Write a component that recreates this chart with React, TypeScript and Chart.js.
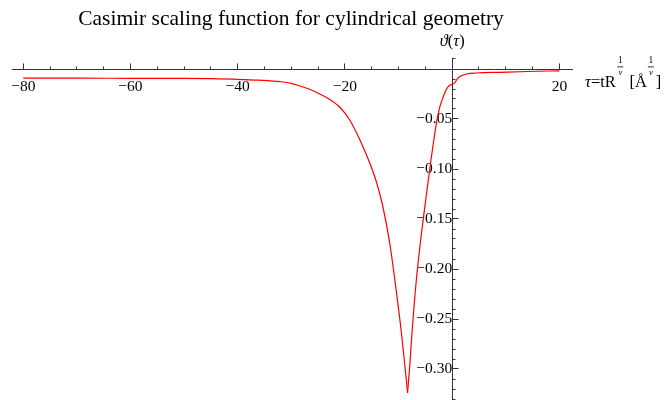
import React, { useEffect, useRef } from 'react';
import { Chart, registerables } from 'chart.js';

Chart.register(...registerables);

// ---- data ----
const leftTau = [-80, -70, -60, -50, -45, -40, -36, -32, -30, -28.4, -26.5, -24.7, -22.8, -20.9, -19.1, -17.2, -15.35, -14.42, -13.8, -12.87, -11.62, -10.69, -9.44, -8.32];
const leftVal = [-0.0092, -0.0092, -0.0093, -0.0094, -0.0097, -0.0103, -0.0112, -0.0127, -0.0143, -0.017, -0.0205, -0.025, -0.0305, -0.0385, -0.051, -0.071, -0.0943, -0.108, -0.119, -0.139, -0.175, -0.211, -0.265, -0.3237];
const rightTau = [-8.32, -7.9, -7.52, -6.77, -5.84, -4.91, -3.98, -3.23, -2.8, -2.29, -1.67, -1.05, -0.43, 0.07, 0.5, 0.82, 1.25, 1.75, 2.68, 4.55, 8.9, 14, 20];
const rightVal = [-0.3237, -0.296, -0.266, -0.216, -0.1695, -0.13, -0.092, -0.064, -0.05, -0.0377, -0.0277, -0.02, -0.0163, -0.0153, -0.0137, -0.011, -0.0083, -0.0067, -0.005, -0.004, -0.0033, -0.0025, -0.0018];

const xLabelTicks = [-80, -60, -40, -20, 20];
const yLabelTicks = [-0.05, -0.1, -0.15, -0.2, -0.25, -0.3];
const xMinorStep = 5;
const yMinorStep = 0.01;

const titleText = 'Casimir scaling function for cylindrical geometry';

const X_MIN = -82.1;
const X_MAX = 22.35;
const Y_MIN = -0.331;
const Y_MAX = 0.011;

const SERIF = '"Liberation Serif", "Times New Roman", serif';
const AXIS_COLOR = '#333333';

function minorTicks(lo: number, hi: number, step: number): number[] {
  const out: number[] = [];
  const start = Math.ceil(lo / step - 1e-9);
  const end = Math.floor(hi / step + 1e-9);
  for (let i = start; i <= end; i++) out.push(Math.round(i * step * 1e6) / 1e6);
  return out;
}

const fmt = (v: number, dec: number) => {
  const s = Math.abs(v).toFixed(dec);
  return v < 0 ? '\u2212' + s : s;
};

const noPad = (s: any) => {
  s.paddingTop = 0;
  s.paddingBottom = 0;
  s.paddingLeft = 0;
  s.paddingRight = 0;
};

type Run = { t: string; font: string; dy?: number };

function drawRuns(ctx: CanvasRenderingContext2D, runs: Run[], x: number, y: number, align: 'left' | 'center') {
  let total = 0;
  for (const r of runs) { ctx.font = r.font; total += ctx.measureText(r.t).width; }
  let cx = align === 'center' ? x - total / 2 : x;
  ctx.textAlign = 'left';
  ctx.textBaseline = 'alphabetic';
  for (const r of runs) {
    ctx.font = r.font;
    ctx.fillText(r.t, cx, y + (r.dy || 0));
    cx += ctx.measureText(r.t).width;
  }
  return cx;
}

function drawFrac(ctx: CanvasRenderingContext2D, x: number, topBase: number) {
  ctx.font = `9.5px ${SERIF}`;
  ctx.textAlign = 'center';
  ctx.textBaseline = 'alphabetic';
  ctx.fillText('1', x + 3, topBase);
  ctx.fillRect(x, topBase + 3.5, 6, 0.8);
  ctx.font = `italic 8.5px ${SERIF}`;
  ctx.fillText('\u03bd', x + 3, topBase + 11.5);
  return x + 7;
}

const textPlugin = {
  id: 'textPlugin',
  afterDraw(chart: any) {
    const ctx: CanvasRenderingContext2D = chart.ctx;
    ctx.save();
    ctx.fillStyle = '#000';
    // title
    ctx.font = `21.5px ${SERIF}`;
    ctx.textAlign = 'center';
    ctx.textBaseline = 'alphabetic';
    ctx.fillText(titleText, 291, 25);
    // y-axis label
    const x0 = chart.scales.x.getPixelForValue(0);
    drawRuns(ctx, [
      { t: '\u03d1', font: `italic 16.5px ${SERIF}` },
      { t: '(', font: `16.5px ${SERIF}` },
      { t: '\u03c4', font: `italic 16.5px ${SERIF}` },
      { t: ')', font: `16.5px ${SERIF}` },
    ], x0, 45.5, 'center');
    // x-axis label
    let cx = drawRuns(ctx, [
      { t: '\u03c4', font: `italic 16.5px ${SERIF}` },
      { t: '=tR', font: `16.5px ${SERIF}` },
    ], 585, 86.5, 'left');
    cx = drawFrac(ctx, cx + 1.5, 63);
    cx = drawRuns(ctx, [{ t: ' [\u00c5', font: `16.5px ${SERIF}` }], cx + 1, 86.5, 'left');
    cx = drawFrac(ctx, cx + 1, 63);
    drawRuns(ctx, [{ t: ']', font: `16.5px ${SERIF}` }], cx + 1, 86.5, 'left');
    ctx.restore();
  },
};

export default function App() {
  const ref = useRef<HTMLCanvasElement | null>(null);
  useEffect(() => {
    if (!ref.current) return;
    const xMinor = minorTicks(X_MIN, X_MAX, xMinorStep);
    const yMinor = minorTicks(Y_MIN, Y_MAX, yMinorStep);
    const tickFont = { family: SERIF, size: 15.5 };
    const chart = new Chart(ref.current, {
      type: 'line',
      data: {
        datasets: [
          {
            data: leftTau.map((t, i) => ({ x: t, y: leftVal[i] })),
            borderColor: 'rgb(255,0,0)',
            borderWidth: 1.2,
            pointRadius: 0,
            cubicInterpolationMode: 'monotone',
            fill: false,
            xAxisID: 'x',
            yAxisID: 'y',
          },
          {
            data: rightTau.map((t, i) => ({ x: t, y: rightVal[i] })),
            borderColor: 'rgb(255,0,0)',
            borderWidth: 1.2,
            pointRadius: 0,
            cubicInterpolationMode: 'monotone',
            fill: false,
            xAxisID: 'x',
            yAxisID: 'y',
          },
        ],
      },
      options: {
        animation: false,
        responsive: false,
        devicePixelRatio: 1,
        layout: { padding: { left: 12, right: 99, top: 58, bottom: 0 } },
        plugins: { legend: { display: false }, title: { display: false }, tooltip: { enabled: false } },
        scales: {
          x: {
            type: 'linear', axis: 'x', min: X_MIN, max: X_MAX, position: { y: 0 },
            afterBuildTicks: (s: any) => { s.ticks = xMinor.map((v) => ({ value: v })); },
            afterFit: noPad,
            ticks: { display: false },
            grid: { drawOnChartArea: false, drawTicks: true, tickLength: -3.5, color: AXIS_COLOR, lineWidth: 1 },
            border: { display: true, color: AXIS_COLOR, width: 1 },
          },
          x2: {
            type: 'linear', axis: 'x', min: X_MIN, max: X_MAX, position: { y: 0 },
            afterBuildTicks: (s: any) => { s.ticks = xLabelTicks.map((v) => ({ value: v })); },
            afterFit: noPad,
            ticks: { display: true, font: tickFont, color: '#000', padding: 14, maxRotation: 0, autoSkip: false, callback: (v: any) => fmt(Number(v), 0) },
            grid: { drawOnChartArea: false, drawTicks: true, tickLength: -5.5, color: AXIS_COLOR, lineWidth: 1 },
            border: { display: false },
          },
          y: {
            type: 'linear', axis: 'y', min: Y_MIN, max: Y_MAX, position: { x: 0 },
            afterBuildTicks: (s: any) => { s.ticks = yMinor.map((v) => ({ value: v })); },
            afterFit: noPad,
            ticks: { display: false },
            grid: { drawOnChartArea: false, drawTicks: true, tickLength: -3.5, color: AXIS_COLOR, lineWidth: 1 },
            border: { display: true, color: AXIS_COLOR, width: 1 },
          },
          y2: {
            type: 'linear', axis: 'y', min: Y_MIN, max: Y_MAX, position: { x: 0 },
            afterBuildTicks: (s: any) => { s.ticks = yLabelTicks.map((v) => ({ value: v })); },
            afterFit: noPad,
            ticks: { display: true, font: tickFont, color: '#000', padding: 12.5, autoSkip: false, callback: (v: any) => fmt(Number(v), 2) },
            grid: { drawOnChartArea: false, drawTicks: true, tickLength: -6.5, color: AXIS_COLOR, lineWidth: 1 },
            border: { display: false },
          },
        },
      } as any,
      plugins: [textPlugin],
    });
    return () => chart.destroy();
  }, []);
  return (
    <div style={{ position: 'absolute', left: 0, top: 0, width: 671, height: 400, background: '#fff' }}>
      <canvas ref={ref} width={671} height={400} style={{ display: 'block', width: 671, height: 400 }} />
    </div>
  );
}
